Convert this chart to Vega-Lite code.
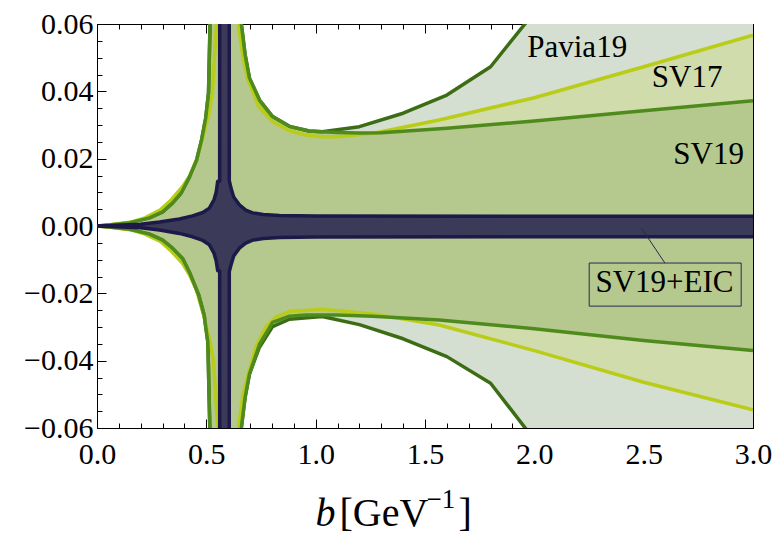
{
  "$schema": "https://vega.github.io/schema/vega-lite/v6.json",
  "width": 656,
  "height": 404,
  "autosize": {"type": "none"},
  "padding": {"left": 97, "top": 24, "right": 23, "bottom": 106},
  "background": "white",
  "config": {
    "view": {"stroke": null},
    "font": "Liberation Serif",
    "axis": {"grid": false, "domainColor": "black", "tickColor": "black", "domainWidth": 1, "tickWidth": 1, "labelFont": "Liberation Serif", "labelFontSize": 30, "labelColor": "black", "titleFont": "Liberation Serif", "titleFontWeight": "normal", "titleColor": "black", "labelFlush": false, "labelOverlap": false}
  },
  "datasets": {
    "bands": [
      {"s":"Pavia19","d":"u","b":0,"y":0},{"s":"Pavia19","d":"u","b":0.06,"y":0.0003},{"s":"Pavia19","d":"u","b":0.15,"y":0.001},{"s":"Pavia19","d":"u","b":0.24,"y":0.0024},{"s":"Pavia19","d":"u","b":0.3,"y":0.0042},{"s":"Pavia19","d":"u","b":0.345,"y":0.0068},{"s":"Pavia19","d":"u","b":0.385,"y":0.0098},{"s":"Pavia19","d":"u","b":0.423,"y":0.0146},{"s":"Pavia19","d":"u","b":0.455,"y":0.0195},{"s":"Pavia19","d":"u","b":0.478,"y":0.0255},{"s":"Pavia19","d":"u","b":0.497,"y":0.032},{"s":"Pavia19","d":"u","b":0.51,"y":0.0395},{"s":"Pavia19","d":"u","b":0.517,"y":0.06},{"s":"Pavia19","d":"u","b":0.58,"y":1},{"s":"Pavia19","d":"u","b":0.66,"y":0.06},{"s":"Pavia19","d":"u","b":0.677,"y":0.051},{"s":"Pavia19","d":"u","b":0.697,"y":0.044},{"s":"Pavia19","d":"u","b":0.743,"y":0.0374},{"s":"Pavia19","d":"u","b":0.803,"y":0.0325},{"s":"Pavia19","d":"u","b":0.88,"y":0.0296},{"s":"Pavia19","d":"u","b":0.97,"y":0.0282},{"s":"Pavia19","d":"u","b":1.03,"y":0.028},{"s":"Pavia19","d":"u","b":1.2,"y":0.0295},{"s":"Pavia19","d":"u","b":1.4,"y":0.0335},{"s":"Pavia19","d":"u","b":1.6,"y":0.0389},{"s":"Pavia19","d":"u","b":1.8,"y":0.0473},{"s":"Pavia19","d":"u","b":2.0,"y":0.0635},{"s":"Pavia19","d":"u","b":2.4,"y":0.1},{"s":"Pavia19","d":"u","b":3.0,"y":0.2},
      {"s":"Pavia19","d":"l","b":0,"y":0},{"s":"Pavia19","d":"l","b":0.06,"y":-0.0003},{"s":"Pavia19","d":"l","b":0.15,"y":-0.001},{"s":"Pavia19","d":"l","b":0.24,"y":-0.0024},{"s":"Pavia19","d":"l","b":0.3,"y":-0.0042},{"s":"Pavia19","d":"l","b":0.345,"y":-0.0066},{"s":"Pavia19","d":"l","b":0.392,"y":-0.0097},{"s":"Pavia19","d":"l","b":0.423,"y":-0.0138},{"s":"Pavia19","d":"l","b":0.465,"y":-0.0205},{"s":"Pavia19","d":"l","b":0.49,"y":-0.0265},{"s":"Pavia19","d":"l","b":0.507,"y":-0.0345},{"s":"Pavia19","d":"l","b":0.516,"y":-0.06},{"s":"Pavia19","d":"l","b":0.58,"y":-1},{"s":"Pavia19","d":"l","b":0.66,"y":-0.06},{"s":"Pavia19","d":"l","b":0.677,"y":-0.051},{"s":"Pavia19","d":"l","b":0.697,"y":-0.044},{"s":"Pavia19","d":"l","b":0.743,"y":-0.036},{"s":"Pavia19","d":"l","b":0.803,"y":-0.0299},{"s":"Pavia19","d":"l","b":0.88,"y":-0.0277},{"s":"Pavia19","d":"l","b":1.03,"y":-0.0269},{"s":"Pavia19","d":"l","b":1.2,"y":-0.0293},{"s":"Pavia19","d":"l","b":1.4,"y":-0.0335},{"s":"Pavia19","d":"l","b":1.6,"y":-0.0388},{"s":"Pavia19","d":"l","b":1.8,"y":-0.0467},{"s":"Pavia19","d":"l","b":2.0,"y":-0.0635},{"s":"Pavia19","d":"l","b":2.4,"y":-0.1},{"s":"Pavia19","d":"l","b":3.0,"y":-0.2},

      {"s":"SV19","d":"u","b":0,"y":0},{"s":"SV19","d":"u","b":0.06,"y":0.0003},{"s":"SV19","d":"u","b":0.15,"y":0.001},{"s":"SV19","d":"u","b":0.24,"y":0.0024},{"s":"SV19","d":"u","b":0.3,"y":0.0042},{"s":"SV19","d":"u","b":0.345,"y":0.0068},{"s":"SV19","d":"u","b":0.385,"y":0.0098},{"s":"SV19","d":"u","b":0.423,"y":0.0146},{"s":"SV19","d":"u","b":0.455,"y":0.0195},{"s":"SV19","d":"u","b":0.478,"y":0.0255},{"s":"SV19","d":"u","b":0.497,"y":0.032},{"s":"SV19","d":"u","b":0.51,"y":0.0395},{"s":"SV19","d":"u","b":0.517,"y":0.06},{"s":"SV19","d":"u","b":0.58,"y":1},{"s":"SV19","d":"u","b":0.66,"y":0.06},{"s":"SV19","d":"u","b":0.677,"y":0.051},{"s":"SV19","d":"u","b":0.697,"y":0.044},{"s":"SV19","d":"u","b":0.743,"y":0.0374},{"s":"SV19","d":"u","b":0.803,"y":0.0325},{"s":"SV19","d":"u","b":0.88,"y":0.0296},{"s":"SV19","d":"u","b":0.97,"y":0.0282},{"s":"SV19","d":"u","b":1.03,"y":0.028},{"s":"SV19","d":"u","b":1.1,"y":0.0278},{"s":"SV19","d":"u","b":1.2,"y":0.0276},{"s":"SV19","d":"u","b":1.3,"y":0.0277},{"s":"SV19","d":"u","b":1.6,"y":0.029},{"s":"SV19","d":"u","b":2.0,"y":0.0312},{"s":"SV19","d":"u","b":2.5,"y":0.0342},{"s":"SV19","d":"u","b":3.0,"y":0.0372},
      {"s":"SV19","d":"l","b":0,"y":0},{"s":"SV19","d":"l","b":0.06,"y":-0.0003},{"s":"SV19","d":"l","b":0.15,"y":-0.001},{"s":"SV19","d":"l","b":0.24,"y":-0.0024},{"s":"SV19","d":"l","b":0.3,"y":-0.0042},{"s":"SV19","d":"l","b":0.345,"y":-0.0066},{"s":"SV19","d":"l","b":0.392,"y":-0.0097},{"s":"SV19","d":"l","b":0.423,"y":-0.0138},{"s":"SV19","d":"l","b":0.465,"y":-0.0205},{"s":"SV19","d":"l","b":0.49,"y":-0.0265},{"s":"SV19","d":"l","b":0.507,"y":-0.0345},{"s":"SV19","d":"l","b":0.516,"y":-0.06},{"s":"SV19","d":"l","b":0.58,"y":-1},{"s":"SV19","d":"l","b":0.66,"y":-0.06},{"s":"SV19","d":"l","b":0.677,"y":-0.051},{"s":"SV19","d":"l","b":0.697,"y":-0.044},{"s":"SV19","d":"l","b":0.743,"y":-0.0352},{"s":"SV19","d":"l","b":0.803,"y":-0.0286},{"s":"SV19","d":"l","b":0.88,"y":-0.0268},{"s":"SV19","d":"l","b":0.956,"y":-0.0264},{"s":"SV19","d":"l","b":1.1,"y":-0.0264},{"s":"SV19","d":"l","b":1.26,"y":-0.0268},{"s":"SV19","d":"l","b":1.565,"y":-0.0279},{"s":"SV19","d":"l","b":2.0,"y":-0.0305},{"s":"SV19","d":"l","b":2.5,"y":-0.034},{"s":"SV19","d":"l","b":3.0,"y":-0.037},

      {"s":"SV17","d":"u","b":0,"y":0},{"s":"SV17","d":"u","b":0.04,"y":0.0002},{"s":"SV17","d":"u","b":0.16,"y":0.0012},{"s":"SV17","d":"u","b":0.22,"y":0.0024},{"s":"SV17","d":"u","b":0.29,"y":0.0048},{"s":"SV17","d":"u","b":0.34,"y":0.0078},{"s":"SV17","d":"u","b":0.39,"y":0.0116},{"s":"SV17","d":"u","b":0.425,"y":0.015},{"s":"SV17","d":"u","b":0.455,"y":0.0196},{"s":"SV17","d":"u","b":0.49,"y":0.0276},{"s":"SV17","d":"u","b":0.512,"y":0.0335},{"s":"SV17","d":"u","b":0.528,"y":0.0395},{"s":"SV17","d":"u","b":0.546,"y":0.06},{"s":"SV17","d":"u","b":0.58,"y":1},{"s":"SV17","d":"u","b":0.647,"y":0.06},{"s":"SV17","d":"u","b":0.668,"y":0.05},{"s":"SV17","d":"u","b":0.69,"y":0.0435},{"s":"SV17","d":"u","b":0.74,"y":0.0355},{"s":"SV17","d":"u","b":0.803,"y":0.031},{"s":"SV17","d":"u","b":0.88,"y":0.0283},{"s":"SV17","d":"u","b":0.956,"y":0.027},{"s":"SV17","d":"u","b":1.03,"y":0.0265},{"s":"SV17","d":"u","b":1.1,"y":0.0265},{"s":"SV17","d":"u","b":1.26,"y":0.0275},{"s":"SV17","d":"u","b":1.565,"y":0.0315},{"s":"SV17","d":"u","b":2.0,"y":0.0381},{"s":"SV17","d":"u","b":2.5,"y":0.0473},{"s":"SV17","d":"u","b":3.0,"y":0.0567},
      {"s":"SV17","d":"l","b":0,"y":0},{"s":"SV17","d":"l","b":0.04,"y":-0.0002},{"s":"SV17","d":"l","b":0.16,"y":-0.0012},{"s":"SV17","d":"l","b":0.22,"y":-0.0024},{"s":"SV17","d":"l","b":0.29,"y":-0.0046},{"s":"SV17","d":"l","b":0.34,"y":-0.0075},{"s":"SV17","d":"l","b":0.39,"y":-0.011},{"s":"SV17","d":"l","b":0.423,"y":-0.0145},{"s":"SV17","d":"l","b":0.455,"y":-0.019},{"s":"SV17","d":"l","b":0.49,"y":-0.027},{"s":"SV17","d":"l","b":0.515,"y":-0.034},{"s":"SV17","d":"l","b":0.532,"y":-0.0395},{"s":"SV17","d":"l","b":0.552,"y":-0.06},{"s":"SV17","d":"l","b":0.58,"y":-1},{"s":"SV17","d":"l","b":0.647,"y":-0.06},{"s":"SV17","d":"l","b":0.668,"y":-0.05},{"s":"SV17","d":"l","b":0.697,"y":-0.0428},{"s":"SV17","d":"l","b":0.728,"y":-0.0358},{"s":"SV17","d":"l","b":0.773,"y":-0.0299},{"s":"SV17","d":"l","b":0.82,"y":-0.027},{"s":"SV17","d":"l","b":0.88,"y":-0.0254},{"s":"SV17","d":"l","b":1.03,"y":-0.0247},{"s":"SV17","d":"l","b":1.26,"y":-0.0261},{"s":"SV17","d":"l","b":1.565,"y":-0.0294},{"s":"SV17","d":"l","b":2.0,"y":-0.037},{"s":"SV17","d":"l","b":2.5,"y":-0.0464},{"s":"SV17","d":"l","b":3.0,"y":-0.0546},

      {"s":"EIC","d":"u","b":0,"y":0},{"s":"EIC","d":"u","b":0.2,"y":0.0005},{"s":"EIC","d":"u","b":0.286,"y":0.0012},{"s":"EIC","d":"u","b":0.377,"y":0.0021},{"s":"EIC","d":"u","b":0.437,"y":0.003},{"s":"EIC","d":"u","b":0.484,"y":0.004},{"s":"EIC","d":"u","b":0.514,"y":0.0053},{"s":"EIC","d":"u","b":0.535,"y":0.0078},{"s":"EIC","d":"u","b":0.545,"y":0.0100},{"s":"EIC","d":"u","b":0.552,"y":0.0133},{"s":"EIC","d":"u","b":0.561,"y":0.0133},{"s":"EIC","d":"u","b":0.565,"y":1},{"s":"EIC","d":"u","b":0.601,"y":1},{"s":"EIC","d":"u","b":0.605,"y":0.0135},{"s":"EIC","d":"u","b":0.613,"y":0.0112},{"s":"EIC","d":"u","b":0.625,"y":0.0086},{"s":"EIC","d":"u","b":0.651,"y":0.0063},{"s":"EIC","d":"u","b":0.68,"y":0.0047},{"s":"EIC","d":"u","b":0.712,"y":0.0039},{"s":"EIC","d":"u","b":0.76,"y":0.0034},{"s":"EIC","d":"u","b":0.834,"y":0.0031},{"s":"EIC","d":"u","b":1.0,"y":0.003},{"s":"EIC","d":"u","b":2.0,"y":0.0029},{"s":"EIC","d":"u","b":3.0,"y":0.0029},
      {"s":"EIC","d":"l","b":0,"y":0},{"s":"EIC","d":"l","b":0.2,"y":-0.0005},{"s":"EIC","d":"l","b":0.286,"y":-0.0012},{"s":"EIC","d":"l","b":0.377,"y":-0.0022},{"s":"EIC","d":"l","b":0.437,"y":-0.0032},{"s":"EIC","d":"l","b":0.484,"y":-0.0043},{"s":"EIC","d":"l","b":0.514,"y":-0.0056},{"s":"EIC","d":"l","b":0.535,"y":-0.0081},{"s":"EIC","d":"l","b":0.545,"y":-0.0103},{"s":"EIC","d":"l","b":0.552,"y":-0.0133},{"s":"EIC","d":"l","b":0.561,"y":-0.0133},{"s":"EIC","d":"l","b":0.565,"y":-1},{"s":"EIC","d":"l","b":0.601,"y":-1},{"s":"EIC","d":"l","b":0.605,"y":-0.0135},{"s":"EIC","d":"l","b":0.613,"y":-0.0115},{"s":"EIC","d":"l","b":0.625,"y":-0.0089},{"s":"EIC","d":"l","b":0.651,"y":-0.0066},{"s":"EIC","d":"l","b":0.68,"y":-0.0051},{"s":"EIC","d":"l","b":0.712,"y":-0.0042},{"s":"EIC","d":"l","b":0.76,"y":-0.0037},{"s":"EIC","d":"l","b":0.834,"y":-0.0034},{"s":"EIC","d":"l","b":1.0,"y":-0.0033},{"s":"EIC","d":"l","b":2.0,"y":-0.0032},{"s":"EIC","d":"l","b":3.0,"y":-0.0032}
    ],
    "labels": [
      {"t":"Pavia19","b":2.196,"y":0.0529},
      {"t":"SV17","b":2.699,"y":0.044},
      {"t":"SV19","b":2.797,"y":0.0211},
      {"t":"SV19+EIC","b":2.595,"y":-0.0168}
    ],
    "box": [{"b1":2.251,"b2":2.946,"y1":-0.011,"y2":-0.0238}],
    "leader": [{"b1":2.49,"y1":-0.0006,"b2":2.597,"y2":-0.011}]
  },
  "layer": [
    {
      "data": {"name": "bands"},
      "transform": [{"filter": "datum.s == 'Pavia19'"}],
      "mark": {"type": "area", "clip": true, "color": "#d4dfd1"},
      "encoding": {
        "x": {"field": "b", "type": "quantitative", "scale": {"domain": [0, 3], "nice": false, "zero": false},
          "axis": {"orient": "bottom", "values": [0,0.1,0.2,0.3,0.4,0.5,0.6,0.7,0.8,0.9,1,1.1,1.2,1.3,1.4,1.5,1.6,1.7,1.8,1.9,2,2.1,2.2,2.3,2.4,2.5,2.6,2.7,2.8,2.9,3],
            "labelExpr": "round(datum.value*10) % 5 == 0 ? format(datum.value, '.1f') : ''",
            "tickSize": {"condition": {"test": "round(datum.value*10) % 5 == 0", "value": -9}, "value": -5},
            "labelPadding": 20, "labelBaseline": "top",
            "title": "b", "titleFontStyle": "italic", "titleFontSize": 40, "titleX": 218, "titleY": 97, "titleBaseline": "alphabetic", "titleAlign": "left", "titleAngle": 0}},
        "y": {"field": "y", "type": "quantitative", "scale": {"domain": [-0.06, 0.06], "nice": false, "zero": false},
          "axis": {"orient": "left", "values": [-0.06,-0.055,-0.05,-0.045,-0.04,-0.035,-0.03,-0.025,-0.02,-0.015,-0.01,-0.005,0,0.005,0.01,0.015,0.02,0.025,0.03,0.035,0.04,0.045,0.05,0.055,0.06],
            "labelExpr": "abs(round(datum.value*1000)) % 20 == 0 ? format(datum.value, '.2f') : ''",
            "tickSize": {"condition": {"test": "abs(round(datum.value*1000)) % 20 == 0", "value": -9}, "value": -5},
            "labelPadding": 13,
            "title": "]", "titleFontSize": 40, "titleX": 361, "titleY": 501, "titleBaseline": "alphabetic", "titleAlign": "left", "titleAngle": 0}},
        "y2": {"datum": 0},
        "detail": {"field": "d"}
      }
    },
    {
      "data": {"name": "bands"},
      "transform": [{"filter": "datum.s == 'SV17'"}],
      "mark": {"type": "area", "clip": true, "color": "#d0dcab"},
      "encoding": {
        "x": {"field": "b", "type": "quantitative",
          "axis": {"orient": "top", "values": [0,0.1,0.2,0.3,0.4,0.5,0.6,0.7,0.8,0.9,1,1.1,1.2,1.3,1.4,1.5,1.6,1.7,1.8,1.9,2,2.1,2.2,2.3,2.4,2.5,2.6,2.7,2.8,2.9,3],
            "labels": false,
            "tickSize": {"condition": {"test": "round(datum.value*10) % 5 == 0", "value": -9}, "value": -5},
            "title": "[GeV", "titleFontSize": 40, "titleX": 242, "titleY": 501, "titleBaseline": "alphabetic", "titleAlign": "left", "titleAngle": 0}},
        "y": {"field": "y", "type": "quantitative",
          "axis": {"orient": "right", "values": [-0.06,-0.055,-0.05,-0.045,-0.04,-0.035,-0.03,-0.025,-0.02,-0.015,-0.01,-0.005,0,0.005,0.01,0.015,0.02,0.025,0.03,0.035,0.04,0.045,0.05,0.055,0.06],
            "labels": false,
            "tickSize": {"condition": {"test": "abs(round(datum.value*1000)) % 20 == 0", "value": -9}, "value": -5},
            "title": "−1", "titleFontSize": 27, "titleX": -327, "titleY": 483, "titleBaseline": "alphabetic", "titleAlign": "left", "titleAngle": 0}},
        "y2": {"datum": 0},
        "detail": {"field": "d"}
      }
    },
    {
      "data": {"name": "bands"},
      "transform": [{"filter": "datum.s == 'SV19'"}],
      "mark": {"type": "area", "clip": true, "color": "#b5c88e"},
      "encoding": {
        "x": {"field": "b", "type": "quantitative", "axis": null},
        "y": {"field": "y", "type": "quantitative", "axis": null},
        "y2": {"datum": 0},
        "detail": {"field": "d"}
      }
    },
    {
      "data": {"name": "bands"},
      "transform": [{"filter": "datum.s == 'EIC'"}],
      "mark": {"type": "area", "clip": true, "color": "#3b3a59"},
      "encoding": {
        "x": {"field": "b", "type": "quantitative", "axis": null},
        "y": {"field": "y", "type": "quantitative", "axis": null},
        "y2": {"datum": 0},
        "detail": {"field": "d"}
      }
    },
    {
      "data": {"name": "bands"},
      "transform": [{"filter": "datum.s == 'Pavia19'"}],
      "mark": {"type": "line", "clip": true, "color": "#3c6d15", "strokeWidth": 3.5, "strokeJoin": "round"},
      "encoding": {
        "x": {"field": "b", "type": "quantitative", "axis": null},
        "y": {"field": "y", "type": "quantitative", "axis": null},
        "detail": {"field": "d"}
      }
    },
    {
      "data": {"name": "bands"},
      "transform": [{"filter": "datum.s == 'SV17'"}],
      "mark": {"type": "line", "clip": true, "color": "#b9cc17", "strokeWidth": 3.5, "strokeJoin": "round"},
      "encoding": {
        "x": {"field": "b", "type": "quantitative", "axis": null},
        "y": {"field": "y", "type": "quantitative", "axis": null},
        "detail": {"field": "d"}
      }
    },
    {
      "data": {"name": "bands"},
      "transform": [{"filter": "datum.s == 'SV19'"}],
      "mark": {"type": "line", "clip": true, "color": "#4f8b1c", "strokeWidth": 3.5, "strokeJoin": "round"},
      "encoding": {
        "x": {"field": "b", "type": "quantitative", "axis": null},
        "y": {"field": "y", "type": "quantitative", "axis": null},
        "detail": {"field": "d"}
      }
    },
    {
      "data": {"name": "bands"},
      "transform": [{"filter": "datum.s == 'EIC'"}],
      "mark": {"type": "line", "clip": true, "color": "#1d1949", "strokeWidth": 3.5, "strokeJoin": "round"},
      "encoding": {
        "x": {"field": "b", "type": "quantitative", "axis": null},
        "y": {"field": "y", "type": "quantitative", "axis": null},
        "detail": {"field": "d"}
      }
    },
    {
      "mark": {"type": "rule", "color": "black", "strokeWidth": 1},
      "encoding": {"y": {"datum": 0, "type": "quantitative", "axis": null}}
    },
    {
      "data": {"name": "leader"},
      "mark": {"type": "rule", "color": "#2b2a50", "strokeWidth": 1},
      "encoding": {
        "x": {"field": "b1", "type": "quantitative", "axis": null},
        "y": {"field": "y1", "type": "quantitative", "axis": null},
        "x2": {"field": "b2"},
        "y2": {"field": "y2"}
      }
    },
    {
      "data": {"name": "box"},
      "mark": {"type": "rect", "fill": null, "fillOpacity": 0, "stroke": "#2b2a50", "strokeWidth": 1},
      "encoding": {
        "x": {"field": "b1", "type": "quantitative", "axis": null},
        "x2": {"field": "b2"},
        "y": {"field": "y1", "type": "quantitative", "axis": null},
        "y2": {"field": "y2"}
      }
    },
    {
      "data": {"name": "labels"},
      "mark": {"type": "text", "font": "Liberation Serif", "fontSize": 31, "color": "black", "align": "center", "baseline": "middle"},
      "encoding": {
        "x": {"field": "b", "type": "quantitative", "axis": null},
        "y": {"field": "y", "type": "quantitative", "axis": null},
        "text": {"field": "t"}
      }
    }
  ],
  "resolve": {"axis": {"x": "independent", "y": "independent"}}
}
